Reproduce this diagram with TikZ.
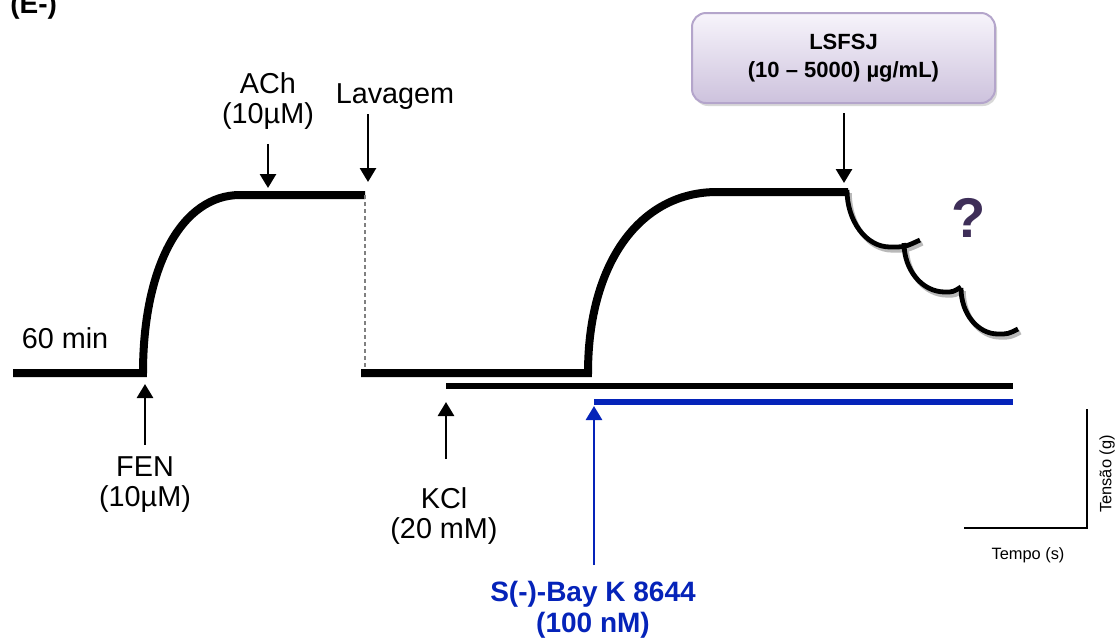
\documentclass[tikz,border=0pt]{standalone}
\usepackage{fontspec}
\setmainfont{Liberation Sans}
\usetikzlibrary{arrows.meta, positioning, shadows}
\definecolor{bayblue}{RGB}{5,35,185}
\definecolor{qmark}{RGB}{62,46,88}
\definecolor{boxtop}{RGB}{247,244,251}
\definecolor{boxbot}{RGB}{205,194,221}
\definecolor{boxline}{RGB}{180,165,203}

\begin{document}
\begin{tikzpicture}[
	x=0.5pt, y=-0.5pt,
	lbl/.style={align=center, inner sep=0pt, font=\fontsize{14.4}{15}\selectfont},
	bluelbl/.style={align=center, inner sep=0pt, text=bayblue, font=\bfseries\fontsize{14}{15.5}\selectfont},
	small/.style={inner sep=0pt, font=\fontsize{8.2}{9}\selectfont},
	trace/.style={line width=4pt},
	arr/.style={-{Triangle[width=8pt,length=7pt]}, line width=1.4pt},
	scallop/.style={line width=2.4pt},
	scshadow/.style={scallop, gray!55, xshift=1.2pt, yshift=-1.6pt},
	drugbox/.style={draw=boxline, line width=1pt, rounded corners=7pt, top color=boxtop, bottom color=boxbot,
		minimum width=151.5pt, minimum height=45pt, align=center, font=\bfseries\fontsize{11}{14}\selectfont,
		drop shadow={shadow xshift=1pt, shadow yshift=-1.5pt, fill=gray!60}}
	]
	\useasboundingbox (0,0) rectangle (1119,639);
	
	% --------------------------------------------------
	% Panel letter
	% --------------------------------------------------
	\node[anchor=base west, inner sep=0pt, font=\bfseries\fontsize{14}{15}\selectfont] (panel) at (10,13) {(E-)};
	
	% ==================================================
	% Tension trace
	% ==================================================
	\draw[trace] (13,373) -- (143,373) .. controls (143,266) and (182,195) .. (240,195) -- (365,195);
	\draw[gray, line width=0.6pt, dash pattern=on 2pt off 1.5pt] (365,195) -- (365,373);
	\draw[trace] (361,373) -- (588,373) .. controls (588,263) and (640,192) .. (717,192) -- (848,192);
	
	% KCl and Bay K lines
	\draw[line width=3.2pt] (446,386) -- (1013,386);
	\draw[bayblue, line width=3pt] (594,402) -- (1013,402);
	
	% relaxation steps (with shadow)
	\draw[scshadow] (847,190) .. controls (847,221) and (866,247) .. (890,247) .. controls (905,247) .. (920,240);
	\draw[scshadow] (904,243) .. controls (904,270) and (922,292) .. (945,292) .. controls (953,292) .. (961,287);
	\draw[scshadow] (961,288) .. controls (961,314) and (978,334) .. (998,334) .. controls (1008,334) .. (1018,329);
	\draw[scallop] (847,190) .. controls (847,221) and (866,247) .. (890,247) .. controls (905,247) .. (920,240);
	\draw[scallop] (904,243) .. controls (904,270) and (922,292) .. (945,292) .. controls (953,292) .. (961,287);
	\draw[scallop] (961,288) .. controls (961,314) and (978,334) .. (998,334) .. controls (1008,334) .. (1018,329);
	
	\node[inner sep=0pt, text=qmark, font=\bfseries\fontsize{28}{30}\selectfont] (qm) at (969,218) {?};
	
	% ==================================================
	% Labels and arrows
	% ==================================================
	\node[lbl] (wait) at (65,338) {60 min};
	
	\node[lbl] (fen) at (145,485) {FEN\\(10µM)};
	\coordinate (fentip) at (145,384);
	\draw[arr, shorten <=6pt] (fen) -- (fentip);
	
	\node[lbl] (ach) at (268,101) {ACh\\(10µM)};
	\coordinate (achtip) at (268,188);
	\draw[arr, shorten <=7pt] (ach) -- (achtip);
	
	\node[lbl] (lav) at (395,97) {Lavagem};
	\coordinate (lavtip) at (368,182);
	\draw[arr, shorten <=2pt] (lav.south -| lavtip) -- (lavtip);
	
	\node[lbl] (kcl) at (444,516) {KCl\\(20 mM)};
	\coordinate (kcltip) at (446,402);
	\draw[arr, shorten <=14pt] (kcl.north -| kcltip) -- (kcltip);
	
	\node[bluelbl] (bay) at (593,610) {S(-)-Bay K 8644\\(100 nM)};
	\coordinate (baytip) at (594,406);
	\draw[arr, bayblue, shorten <=8pt] (bay.north -| baytip) -- (baytip);
	
	\node[drugbox] (lsfsj) at (843.5,58) {LSFSJ\\(10 – 5000) µg/mL)};
	\coordinate (lsfsjtip) at (844,183);
	\draw[arr, shorten <=4.5pt] (lsfsj.south -| lsfsjtip) -- (lsfsjtip);
	
	% --------------------------------------------------
	% Scale bar
	% --------------------------------------------------
	\coordinate (sbtop) at (1087,409);
	\coordinate (sbcorner) at (1087,528);
	\coordinate (sbleft) at (964,528);
	\draw[line width=1pt] (sbtop) -- (sbcorner) -- (sbleft);
	\node[small, rotate=90] (tensao) at (1107,474) {Tensão (g)};
	\node[small] (tempo) at (1028,555) {Tempo (s)};
	
\end{tikzpicture}
\end{document}
